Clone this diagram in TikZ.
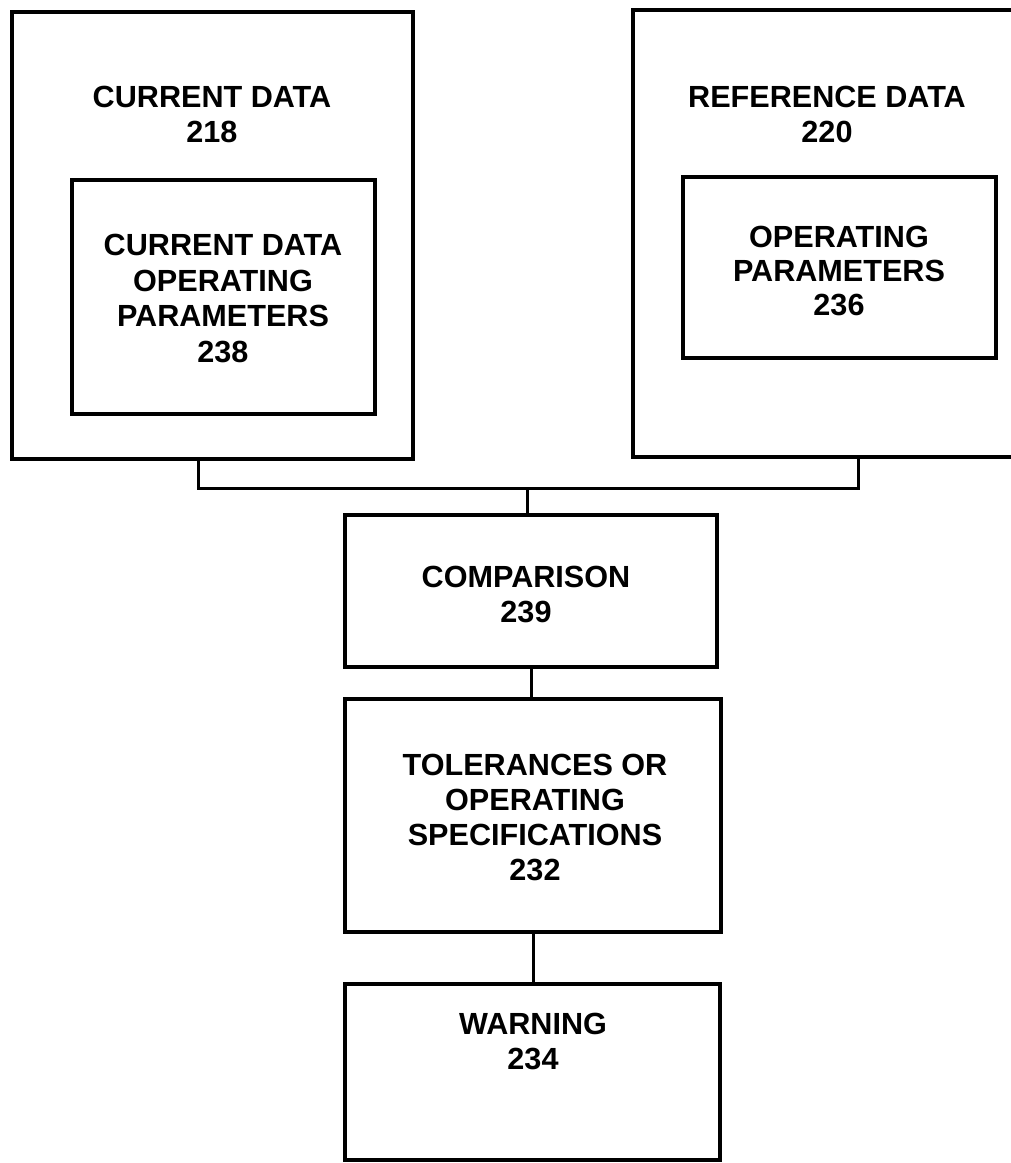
\documentclass[tikz,border=0pt]{standalone}
\usepackage{fontspec}
\setmainfont{Liberation Sans}
\begin{document}
\begin{tikzpicture}[x=1pt,y=-1pt,
  frame/.style={draw=black, line width=3.5pt, inner sep=0pt, outer sep=0pt},
  lbl/.style={font=\bfseries\fontsize{30.6}{35}\selectfont, align=center, inner sep=0pt},
  wire/.style={line width=3pt}]
\useasboundingbox (0,0) rectangle (1011,1163);
\clip (0,0) rectangle (1011,1163);
\fill[white] (0,0) rectangle (1011,1163);
% top boxes
\node[frame, minimum width=401pt, minimum height=447pt] (cdo) at (212.5,235.5) {};
\node[frame, minimum width=303pt, minimum height=234pt] (cdi) at (223.5,297) {};
\node[frame, minimum width=407pt, minimum height=447pt] (rdo) at (836.5,233.5) {};
\node[frame, minimum width=313pt, minimum height=181pt] (rdi) at (839.5,267.5) {};
% lower boxes
\node[frame, minimum width=372pt, minimum height=152pt] (cmp) at (531,591) {};
\node[frame, minimum width=376pt, minimum height=233pt] (tol) at (533,815.5) {};
\node[frame, minimum width=375pt, minimum height=176pt] (warn) at (532.5,1072) {};
% labels
\node[lbl] (tcdo) at (212,114) {CURRENT DATA\\218};
\node[lbl, font=\bfseries\fontsize{30.6}{35.5}\selectfont] (tcdi) at (223,298.5) {CURRENT DATA\\OPERATING\\PARAMETERS\\238};
\node[lbl] (trdo) at (827,114) {REFERENCE DATA\\220};
\node[lbl, font=\bfseries\fontsize{30.6}{34}\selectfont] (trdi) at (839,271) {OPERATING\\PARAMETERS\\236};
\node[lbl] (tcmp) at (526,594.5) {COMPARISON\\239};
\node[lbl] (ttol) at (535,817) {TOLERANCES OR\\OPERATING\\SPECIFICATIONS\\232};
\node[lbl] (twarn) at (533,1041.5) {WARNING\\234};
% connectors
\coordinate (xl) at (198,0);
\coordinate (xr) at (858,0);
\coordinate (j) at (527,488);
\draw[wire] (cdo.south -| xl) |- (j) -| (rdo.south -| xr);
\draw[wire] (j) -- (cmp.north -| j);
\draw[wire] (cmp.south) -- (cmp.south |- tol.north);
\draw[wire] (tol.south) -- (tol.south |- warn.north);
\end{tikzpicture}
\end{document}
